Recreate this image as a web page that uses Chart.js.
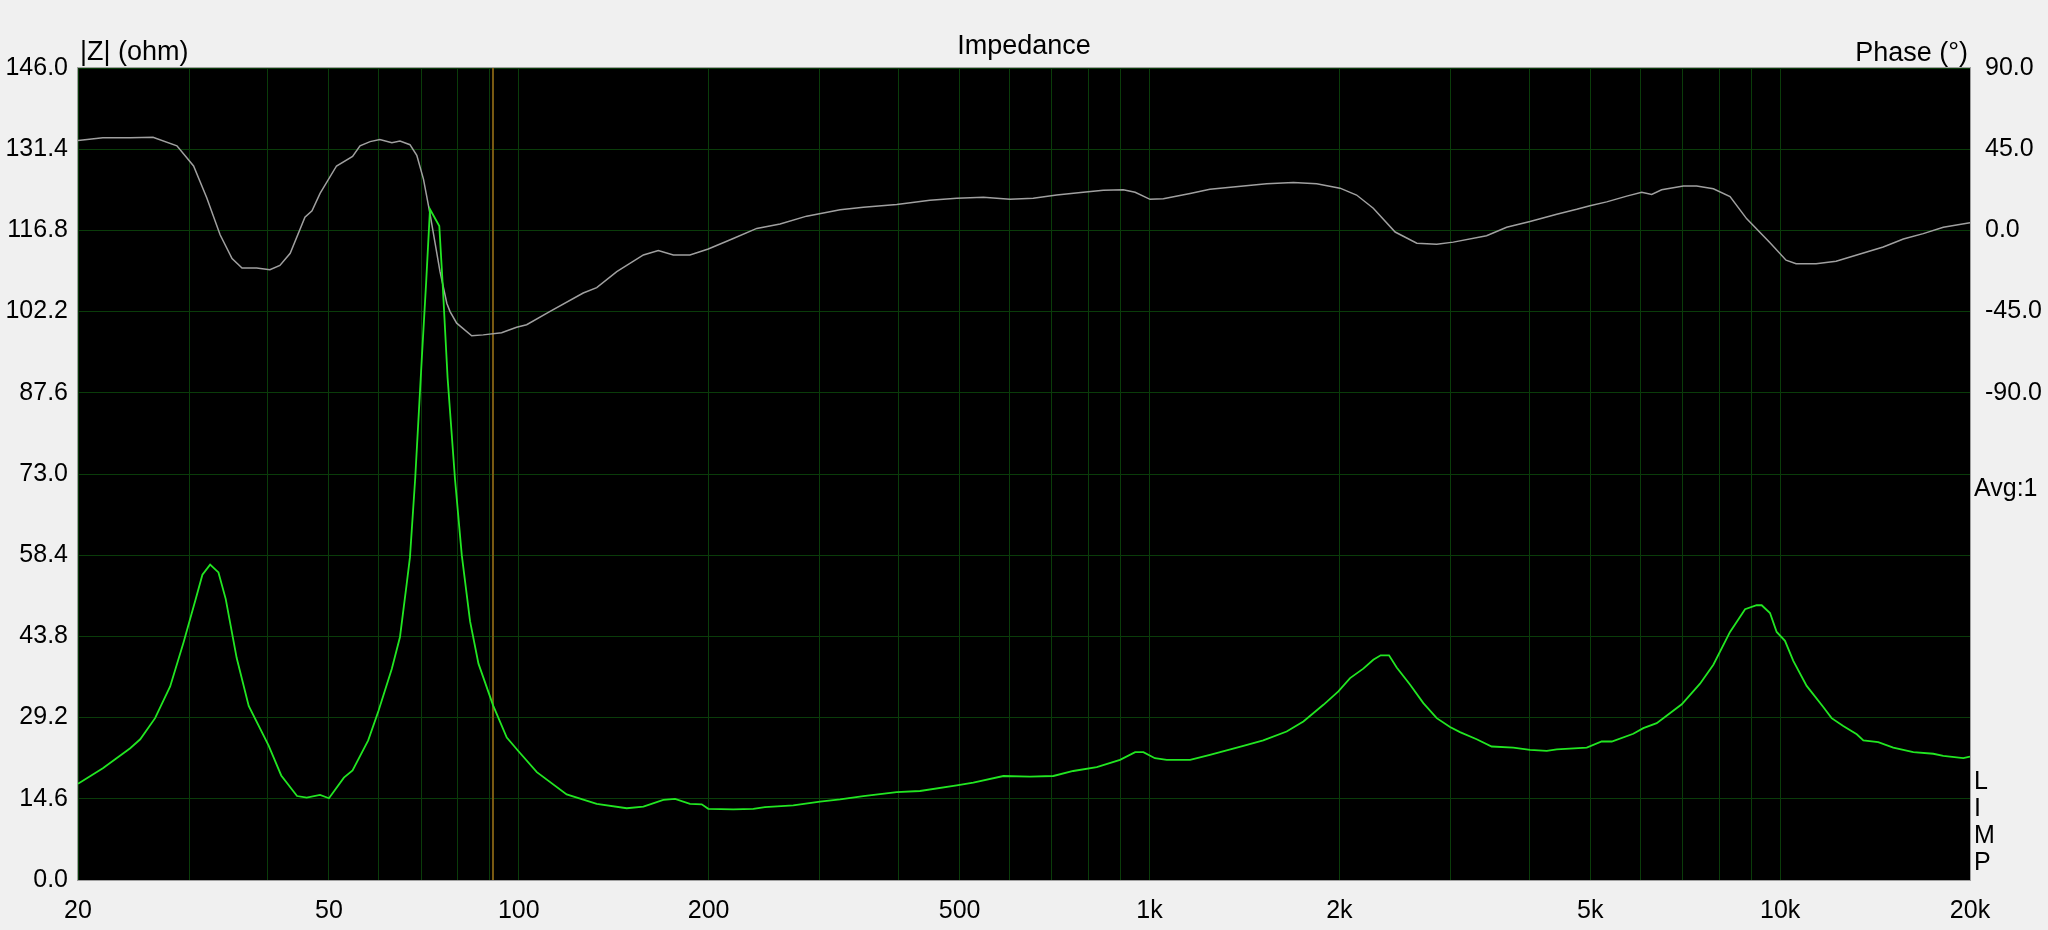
<!DOCTYPE html>
<html>
<head>
<meta charset="utf-8">
<title>Impedance</title>
<script src="https://cdn.jsdelivr.net/npm/chart.js@4.4.1/dist/chart.umd.min.js"></script>
<style>
  body { margin: 0; background: #f0f0f0; }
  canvas { display: block; }
</style>
</head>
<body>
<canvas id="chart" width="2048" height="930"></canvas>
<script>
// DATA
const impFreq = [20, 21.9, 24.2, 25.1, 26.5, 28.0, 29.4, 30.7, 31.5, 32.4, 33.4, 34.3, 35.7, 37.3, 40.1,
    42.0, 44.5, 46.1, 48.4, 50.0, 52.8, 54.5, 57.7, 59.9, 62.9, 64.8, 66.4, 67.2, 68.5, 70.2,
    71.3, 72.3, 74.8, 75.7, 77.1, 79.2, 81.2, 83.7, 86.3, 91.1, 95.7, 99.8, 106.8, 119.1, 132.9,
    148.3, 157.6, 169.5, 176.9, 186.8, 195.0, 199.7, 218.8, 235.4, 245.6, 272.4, 300.3, 323.2, 351.8, 397.4,
    432.6, 494.8, 525.6, 586.6, 646.4, 704, 757, 825, 898, 949, 978, 1020, 1065, 1160, 1247,
    1409, 1515, 1650, 1754, 1887, 1993, 2080, 2183, 2264, 2326, 2398, 2466, 2590, 2718, 2854,
    2996, 3107, 3302, 3488, 3774, 4012, 4265, 4424, 4936, 5212, 5408, 5850, 6068, 6372, 6982,
    7464, 7836, 8328, 8798, 9178, 9348, 9636, 9874, 10178, 10492, 11016, 11704, 12068, 12590, 13228,
    13550, 14306, 15112, 16260, 17492, 18142, 19518, 20000];
const impOhm = [17.3, 20.1, 23.7, 25.3, 29.1, 34.8, 42.7, 50.3, 54.9, 56.7, 55.3, 50.5, 39.9, 31.3, 24.2,
    18.8, 15.1, 14.8, 15.3, 14.7, 18.4, 19.7, 25.1, 30.4, 38.0, 43.7, 53.2, 58.0, 72.2, 94.1,
    107.5, 120.6, 117.6, 107.5, 90.3, 72.2, 58.4, 46.5, 38.9, 31.3, 25.6, 23.2, 19.4, 15.4, 13.7,
    12.9, 13.2, 14.4, 14.6, 13.7, 13.6, 12.8, 12.7, 12.8, 13.1, 13.4, 14.1, 14.5, 15.1, 15.8,
    16.0, 17.0, 17.5, 18.7, 18.6, 18.7, 19.6, 20.3, 21.6, 23.0, 23.0, 21.9, 21.6, 21.6, 22.5,
    24.1, 25.1, 26.7, 28.5, 31.5, 33.9, 36.3, 38.0, 39.6, 40.4, 40.4, 38.2, 35.1, 31.8, 29.1,
    27.5, 26.6, 25.3, 24.0, 23.8, 23.4, 23.2, 23.5, 23.8, 24.9, 24.9, 26.3, 27.3, 28.2, 31.6,
    35.3, 38.7, 44.6, 48.7, 49.4, 49.4, 48.0, 44.6, 43.0, 39.4, 34.9, 31.1, 29.1, 27.7, 26.2,
    25.1, 24.8, 23.8, 23.0, 22.7, 22.3, 21.9, 22.2];

const phaseFreq = [20, 21.9, 24.2, 26.3, 28.7, 30.5, 32.0, 33.6, 35.1, 36.4, 38.4, 40.3, 41.8, 43.4, 45.8,
    47.0, 48.4, 51.4, 54.5, 56.0, 58.1, 60.2, 62.9, 64.8, 67.2, 68.9, 70.6, 72.3, 75.0, 76.9,
    77.8, 79.7, 84.2, 87.8, 93.9, 99.2, 102.9, 112.1, 126.5, 132.9, 143.0, 157.6, 166.4, 175.8, 186.8,
    199.7, 218.8, 238.4, 259.6, 286.0, 323.2, 351.8, 397.4, 448.6, 494.8, 545.2, 601.0, 654.2, 712.6, 785.2,
    844.8, 908.8, 949, 1002, 1052, 1160, 1247, 1409, 1534, 1691, 1841, 2005, 2130, 2264, 2452,
    2654, 2854, 3032, 3424, 3684, 4012, 4424, 4758, 4994, 5308, 5712, 6032, 6256, 6488, 7024,
    7372, 7836, 8328, 8852, 9636, 10218, 10600, 11402, 12266, 13228, 14570, 15680, 16864, 18142, 20000];
const phaseDeg = [49.8, 51.3, 51.3, 51.6, 46.9, 35.7, 18.1, -2.4, -15.6, -20.9, -20.9, -21.8, -19.4, -12.7, 7.3,
    10.8, 20.5, 35.7, 41.0, 46.9, 49.2, 50.4, 48.6, 49.5, 47.5, 41.6, 28.4, 9.3, -22.9, -40.5,
    -45, -51.4, -58.4, -57.9, -56.7, -53.7, -52.3, -44.9, -34.7, -31.7, -22.9, -13.6, -11.2, -13.6, -13.6,
    -10.3, -4.5, 1.1, 3.5, 7.9, 11.4, 12.8, 14.3, 16.7, 17.8, 18.4, 17.2, 17.8, 19.6, 21.1,
    22.2, 22.5, 21.1, 17.2, 17.5, 20.5, 22.8, 24.6, 25.8, 26.6, 25.8, 23.4, 19.6, 12.3, -0.9,
    -7.1, -7.7, -6.5, -3.0, 1.7, 4.9, 9.0, 11.7, 13.7, 15.8, 19.0, 21.1, 19.9, 22.5, 24.6,
    24.6, 23.1, 18.7, 6.4, -6.8, -16.5, -18.5, -18.5, -17.1, -13.6, -9.2, -4.8, -1.8, 1.7, 4.3];

// cursor line
const markerFreq = 91;

// TICKS
const freqGrid = [20, 30, 40, 50, 60, 70, 80, 90, 100, 200, 300, 400, 500, 600, 700, 800, 900,
    1000, 2000, 3000, 4000, 5000, 6000, 7000, 8000, 9000, 10000, 20000];
const freqLabels = {20: '20', 50: '50', 100: '100', 200: '200', 500: '500',
    1000: '1k', 2000: '2k', 5000: '5k', 10000: '10k', 20000: '20k'};
const ohmTicks = [0, 14.6, 29.2, 43.8, 58.4, 73.0, 87.6, 102.2, 116.8, 131.4, 146.0];
const phaseTicks = [90, 45, 0, -45, -90];

const font = '"Liberation Sans", Arial, sans-serif';
Chart.defaults.font.family = font;
Chart.defaults.color = '#000';

const gridColor = '#0a3c0a';

// black plot area, frame and the loose labels around it
const plotDecor = {
    id: 'plotDecor',
    beforeDraw(chart) {
        const { ctx, chartArea: a } = chart;
        ctx.save();
        ctx.fillStyle = '#000';
        ctx.fillRect(a.left, a.top, a.right - a.left, a.bottom - a.top);
        ctx.restore();
    },
    afterDraw(chart) {
        const { ctx, chartArea: a } = chart;
        ctx.save();
        ctx.strokeStyle = '#a0a0a0';
        ctx.lineWidth = 1;
        ctx.strokeRect(Math.round(a.left) - 0.5, Math.round(a.top) - 0.5,
            Math.round(a.right - a.left) + 1, Math.round(a.bottom - a.top) + 1);

        ctx.fillStyle = '#000';
        ctx.font = '27px ' + font;
        ctx.textBaseline = 'alphabetic';
        ctx.textAlign = 'left';
        ctx.fillText('|Z| (ohm)', a.left + 2, 60);
        ctx.textAlign = 'right';
        ctx.fillText('Phase (°)', a.right - 2, 61);

        ctx.font = '25px ' + font;
        ctx.textAlign = 'left';
        ctx.textBaseline = 'middle';
        ctx.fillText('Avg:1', a.right + 4, 489);
        ['L', 'I', 'M', 'P'].forEach((c, i) => {
            ctx.fillText(c, a.right + 4, 782 + i * 27);
        });
        ctx.restore();
    }
};

const toPoints = (xs, ys) => xs.map((x, i) => ({ x: x, y: ys[i] }));

new Chart(document.querySelector('#chart'), {
    type: 'line',
    data: {
        datasets: [
            {
                label: '|Z|',
                data: toPoints(impFreq, impOhm),
                yAxisID: 'y',
                borderColor: '#22e622',
                borderWidth: 1.8,
                pointRadius: 0,
                tension: 0
            },
            {
                label: 'Phase',
                data: toPoints(phaseFreq, phaseDeg),
                yAxisID: 'y2',
                borderColor: '#a0a0a0',
                borderWidth: 1.5,
                pointRadius: 0,
                tension: 0
            },
            {
                label: 'cursor',
                data: [{ x: markerFreq, y: 0 }, { x: markerFreq, y: 146 }],
                yAxisID: 'y',
                borderColor: '#7a5a12',
                borderWidth: 2,
                pointRadius: 0
            }
        ]
    },
    options: {
        responsive: false,
        animation: false,
        events: [],
        layout: { padding: 0 },
        plugins: {
            legend: { display: false },
            tooltip: { enabled: false },
            title: {
                display: true,
                text: 'Impedance',
                color: '#000',
                font: { size: 27, weight: 'normal' },
                padding: { top: 30, bottom: 5.6 }
            }
        },
        scales: {
            x: {
                type: 'logarithmic',
                min: 20,
                max: 20000,
                afterBuildTicks: axis => { axis.ticks = freqGrid.map(v => ({ value: v })); },
                afterFit: axis => { axis.height = 50; },
                grid: { color: gridColor, lineWidth: 1, drawTicks: false },
                border: { display: false },
                ticks: {
                    autoSkip: false,
                    maxRotation: 0,
                    padding: 16,
                    font: { size: 25 },
                    callback: v => freqLabels[v] || ''
                }
            },
            y: {
                type: 'linear',
                position: 'left',
                min: 0,
                max: 146,
                afterBuildTicks: axis => { axis.ticks = ohmTicks.map(v => ({ value: v })); },
                afterFit: axis => { axis.width = 78; },
                grid: { color: gridColor, lineWidth: 1, drawTicks: false },
                border: { display: false },
                ticks: {
                    padding: 10,
                    font: { size: 25 },
                    callback: v => v.toFixed(1)
                }
            },
            y2: {
                type: 'linear',
                position: 'right',
                min: -360,
                max: 90,
                afterBuildTicks: axis => { axis.ticks = phaseTicks.map(v => ({ value: v })); },
                afterFit: axis => { axis.width = 78; },
                grid: { display: false, drawTicks: false },
                border: { display: false },
                ticks: {
                    padding: 15,
                    font: { size: 25 },
                    callback: v => v.toFixed(1)
                }
            }
        }
    },
    plugins: [plotDecor]
});
</script>
</body>
</html>
